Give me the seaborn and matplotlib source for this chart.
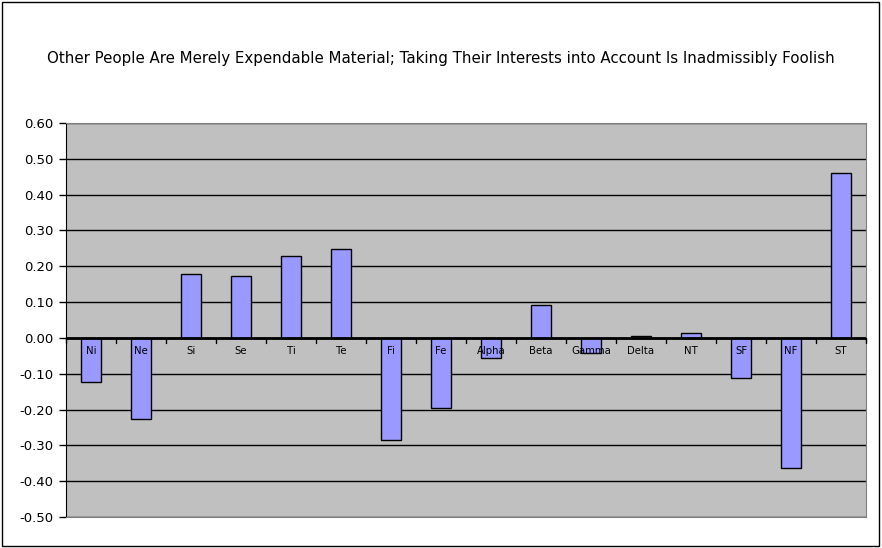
import matplotlib
matplotlib.use("Agg")
import matplotlib.pyplot as plt
import seaborn as sns
import pandas as pd
from matplotlib.patches import Rectangle

# -------------------------------
# Data
# -------------------------------
categories = ["Ni", "Ne", "Si", "Se", "Ti", "Te", "Fi", "Fe",
              "Alpha", "Beta", "Gamma", "Delta", "NT", "SF", "NF", "ST"]
scores = [-0.124, -0.227, 0.178, 0.172, 0.228, 0.248, -0.286, -0.197,
          -0.057, 0.091, -0.043, 0.005, 0.013, -0.113, -0.364, 0.460]
y_ticks = [0.60, 0.50, 0.40, 0.30, 0.20, 0.10, 0.00,
           -0.10, -0.20, -0.30, -0.40, -0.50]
title = ("Other People Are Merely Expendable Material; "
         "Taking Their Interests into Account Is Inadmissibly Foolish")

df = pd.DataFrame({"category": categories, "score": scores})

# -------------------------------
# Plot
# -------------------------------
sns.set_style("white")
plt.rcParams["font.family"] = ["DejaVu Sans"]
plt.rcParams["text.color"] = "black"
plt.rcParams["ytick.color"] = "black"

fig = plt.figure(figsize=(8.82, 5.48), dpi=100)
ax = fig.add_axes([66 / 882, 31 / 548, 800 / 882, 394 / 548])
ax.set_facecolor("#C0C0C0")

sns.barplot(data=df, x="category", y="score", color="#9999FF",
            saturation=1, edgecolor="black", linewidth=1, width=0.4,
            order=categories, ax=ax, zorder=3)

ax.set_ylim(-0.50, 0.60)
ax.set_xlim(-0.5, len(categories) - 0.5)
ax.set_yticks(y_ticks)
ax.set_yticklabels([f"{v:.2f}" for v in y_ticks], fontsize=9.5)
ax.yaxis.grid(True, color="black", linewidth=1, zorder=1)
ax.set_axisbelow(True)
ax.tick_params(axis="y", direction="out", length=5, width=1,
               color="black", labelcolor="black", pad=4, left=True)

# category labels sit just under the zero line, inside the plot
ax.set_xticks([])
ax.set_xlabel("")
ax.set_ylabel("")
for i, name in enumerate(categories):
    ax.text(i, -0.022, name, ha="center", va="top", fontsize=7.3,
            color="black", zorder=4)

# zero line with small ticks between categories
ax.axhline(0, color="black", linewidth=2, zorder=4)
for i in range(len(categories) + 1):
    ax.plot([i - 0.5, i - 0.5], [0, -0.014], color="black",
            linewidth=1, zorder=4, clip_on=False)

for side in ["top", "right", "bottom"]:
    ax.spines[side].set_color("#808080")
ax.spines["left"].set_color("black")

fig.text(0.5, 1 - 58 / 548, title, ha="center", va="center",
         fontsize=10.8, color="black")

# outer frame
fig.patches.append(Rectangle((0.002, 0.004), 0.995, 0.992,
                             transform=fig.transFigure, fill=False,
                             edgecolor="black", linewidth=1))

fig.savefig("out.png", dpi=100)
